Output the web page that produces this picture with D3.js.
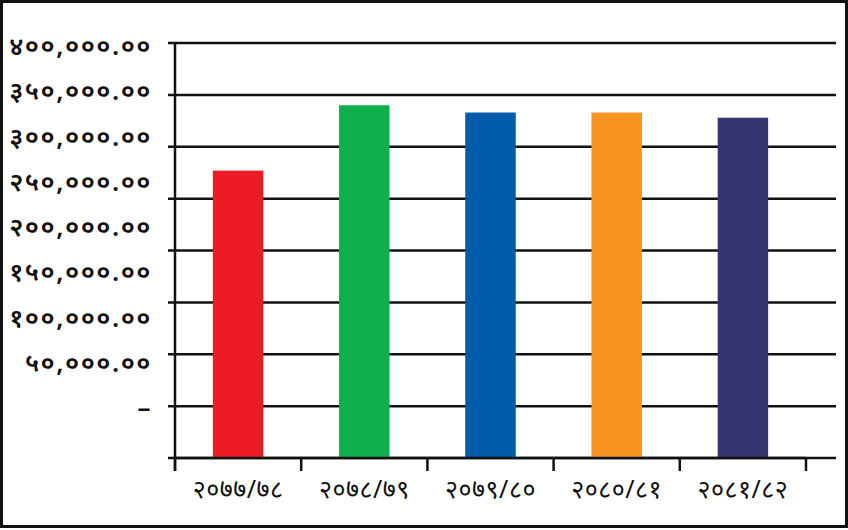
<!DOCTYPE html>
<html>
<head>
<meta charset="utf-8">
<script src="https://cdn.jsdelivr.net/npm/d3@7"></script>
<style>
body { margin: 0; background: #fff; }
text { font-family: "Noto Sans", "DejaVu Sans", sans-serif; fill: #111; }
</style>
</head>
<body>
<script>
// आर्थिक वर्ष र रकम
var years = ["२०७७/७८", "२०७८/७९", "२०७९/८०", "२०८०/८१", "२०८१/८२"];
var amounts = [277000, 340000, 333000, 333000, 328000];
var barColors = ["#ed1c24", "#0db04b", "#005baa", "#f7941d", "#363473"];
var tickValues = [0, 50000, 100000, 150000, 200000, 250000, 300000, 350000, 400000];
var tickLabels = ["–", "५०,०००.००", "१००,०००.००", "१५०,०००.००", "२००,०००.००",
                  "२५०,०००.००", "३००,०००.००", "३५०,०००.००", "४००,०००.००"];

var W = 848, H = 530;
var svg = d3.select("body").append("svg")
    .attr("width", W)
    .attr("height", H);

// outer frame
svg.append("rect")
    .attr("x", 1.5).attr("y", 1.5)
    .attr("width", W - 3).attr("height", H - 5)
    .attr("fill", "none")
    .attr("stroke", "#111")
    .attr("stroke-width", 3);

var x = d3.scaleBand()
    .domain(years)
    .range([175, 806])
    .paddingInner(0.6)
    .paddingOuter(0.3);

var y = d3.scaleLinear()
    .domain([0, 400000])
    .range([458, 43]);

// labels in the picture sit off the grid, so they get their own scale
var yLabel = d3.scaleLinear()
    .domain([0, 400000])
    .range([408, 46]);

// grid lines
svg.append("g")
    .selectAll("line")
    .data(tickValues)
    .enter()
    .append("line")
    .attr("x1", 168)
    .attr("x2", 836)
    .attr("y1", function(d){ return y(d); })
    .attr("y2", function(d){ return y(d); })
    .attr("stroke", "#111")
    .attr("stroke-width", 2.5);

// bars
svg.append("g")
    .selectAll("rect")
    .data(amounts)
    .enter()
    .append("rect")
    .attr("x", function(d, i){ return x(years[i]); })
    .attr("y", function(d){ return y(d); })
    .attr("width", x.bandwidth())
    .attr("height", function(d){ return y(0) - y(d); })
    .attr("fill", function(d, i){ return barColors[i]; });

// y axis line
svg.append("line")
    .attr("x1", 175).attr("x2", 175)
    .attr("y1", y(400000)).attr("y2", 471)
    .attr("stroke", "#111")
    .attr("stroke-width", 2.5);

// x axis with ticks between categories
var xAxis = svg.append("g")
    .attr("transform", "translate(0," + y(0) + ")");

xAxis.append("line")
    .attr("x1", 175).attr("x2", 806)
    .attr("stroke", "#111")
    .attr("stroke-width", 2.5);

xAxis.selectAll("line.tick")
    .data(d3.range(years.length + 1))
    .enter()
    .append("line")
    .attr("class", "tick")
    .attr("x1", function(i){ return 175 + i * x.step(); })
    .attr("x2", function(i){ return 175 + i * x.step(); })
    .attr("y1", 0).attr("y2", 13)
    .attr("stroke", "#111")
    .attr("stroke-width", 2.5);

xAxis.selectAll("text")
    .data(years)
    .enter()
    .append("text")
    .attr("x", function(d){ return x(d) + x.bandwidth() / 2; })
    .attr("y", 40)
    .attr("text-anchor", "middle")
    .attr("font-size", 25)
    .attr("letter-spacing", 0.5)
    .text(function(d){ return d; });

// y labels
svg.append("g")
    .selectAll("text")
    .data(tickValues)
    .enter()
    .append("text")
    .attr("x", 152)
    .attr("y", function(d){ return yLabel(d); })
    .attr("dy", "0.35em")
    .attr("text-anchor", "end")
    .attr("font-size", 26)
    .attr("font-weight", 600)
    .attr("letter-spacing", 1.5)
    .text(function(d, i){ return tickLabels[i]; });
</script>
</body>
</html>
